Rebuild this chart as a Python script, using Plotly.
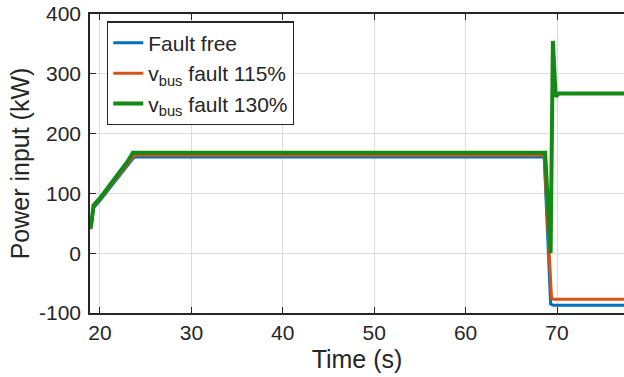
import plotly.graph_objects as go

# Time axis (s) and power input (kW)
t_ff = [19.0, 19.3, 20.0, 21.0, 22.0, 22.5, 23.0, 23.7, 24.0, 68.6, 69.3, 69.6, 77.5]
p_ff = [40, 76, 88, 108, 128, 138, 146, 160, 161, 161, -85, -87, -87]

t_115 = [19.0, 19.3, 20.0, 21.0, 22.0, 22.5, 23.0, 23.7, 24.0, 68.6, 69.4, 69.6, 77.5]
p_115 = [41, 78, 90, 110, 130, 140, 149, 163, 164, 164, -75, -77, -77]

t_130 = [19.0, 19.3, 20.0, 21.0, 22.0, 22.5, 23.0, 23.6, 24.0, 68.7, 69.3, 69.55, 69.85, 70.2, 77.5]
p_130 = [43, 80, 92, 112, 133, 143, 153, 168, 168, 168, 0, 355, 262, 267, 267]

names = ["Fault free", "v<sub>bus</sub> fault 115%", "v<sub>bus</sub> fault 130%"]
colors = ["#0072BD", "#D95319", "#138A13"]
widths = [3, 3, 4]

x_ticks = [20, 30, 40, 50, 60, 70]
y_ticks = [-100, 0, 100, 200, 300, 400]
y_tick_labels = ["-100", "0", "100", "200", "300", "400"]

fig = go.Figure()
for t, p, n, c, w in zip([t_ff, t_115, t_130], [p_ff, p_115, p_130], names, colors, widths):
    fig.add_trace(go.Scatter(x=t, y=p, mode="lines", name=n,
                             line=dict(color=c, width=w)))

axis_col = "#262626"
fig.update_layout(
    width=624, height=377,
    margin=dict(l=90, r=0, t=14, b=64),
    paper_bgcolor="white", plot_bgcolor="white",
    font=dict(family="Liberation Sans, Arial, sans-serif", size=21, color=axis_col),
    showlegend=True,
    legend=dict(x=0.032, y=0.975, xanchor="left", yanchor="top",
                bgcolor="white", bordercolor=axis_col, borderwidth=1.2,
                font=dict(size=21), tracegroupgap=0),
    xaxis=dict(range=[18.91, 77.33], tickvals=x_ticks,
               showgrid=True, gridcolor="#dcdcdc", gridwidth=1,
               showline=True, linecolor=axis_col, linewidth=1.5, mirror="ticks",
               ticks="inside", ticklen=6, tickcolor=axis_col,
               zeroline=False,
               title=dict(text="Time (s)", standoff=8)),
    yaxis=dict(range=[-100, 400], tickvals=y_ticks, ticktext=y_tick_labels,
               showgrid=True, gridcolor="#dcdcdc", gridwidth=1,
               showline=True, linecolor=axis_col, linewidth=1.5,
               ticks="inside", ticklen=6, tickcolor=axis_col,
               ticklabelstandoff=3,
               zeroline=False,
               title=dict(text="Power input (kW)", standoff=2)),
)

fig.write_html("out.html")
